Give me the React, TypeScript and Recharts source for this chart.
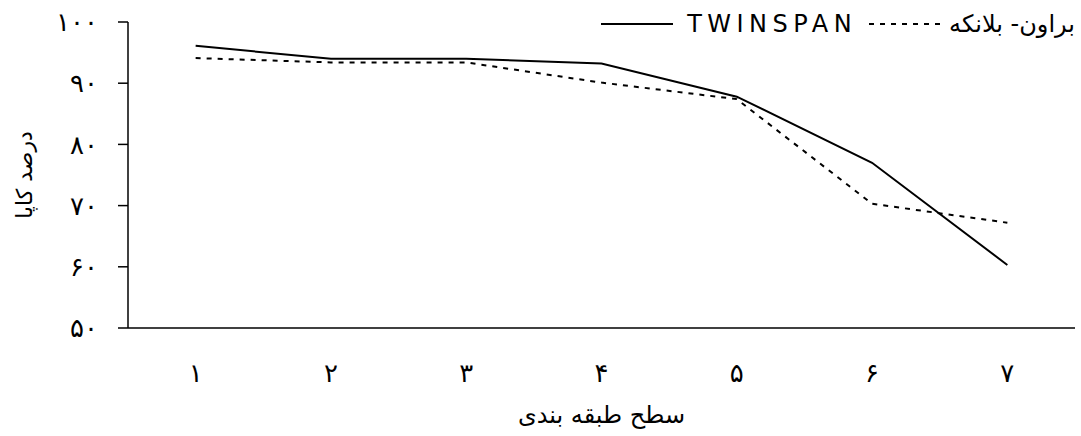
import React from 'react';
import { LineChart, Line, XAxis, YAxis, Legend } from 'recharts';

// classification levels and kappa percentages
const levels = [1, 2, 3, 4, 5, 6, 7];
const twinspan = [96.1, 94.0, 94.0, 93.2, 87.8, 77.0, 60.3];
const braunBlanquet = [94.1, 93.4, 93.4, 90.1, 87.4, 70.3, 67.2];
const yTicks = [50, 60, 70, 80, 90, 100];
const xBounds = [0.5, 1.5, 2.5, 3.5, 4.5, 5.5, 6.5, 7.5];

const faDigits = '۰۱۲۳۴۵۶۷۸۹';
const toFa = (n: number) => String(n).replace(/\d/g, (d) => faDigits[Number(d)]);

const renderLegend = () => (
  <div style={{ height: 22, position: 'relative' }}>
    <div
      style={{
        position: 'absolute',
        right: 0,
        top: 10,
        display: 'flex',
        alignItems: 'center',
        whiteSpace: 'nowrap',
        fontSize: 24,
        color: '#000',
        lineHeight: '28px',
      }}
    >
      <svg width={72} height={6} style={{ marginRight: 14 }}>
        <line x1={0} y1={3} x2={72} y2={3} stroke="#000" strokeWidth={2} />
      </svg>
      <span style={{ letterSpacing: 5.5 }}>TWINSPAN</span>
      <svg width={74} height={6} style={{ marginLeft: 12, marginRight: 6 }}>
        <line x1={0} y1={3} x2={74} y2={3} stroke="#000" strokeWidth={2} strokeDasharray="5 6" />
      </svg>
      <span dir="rtl">براون- بلانکه</span>
    </div>
  </div>
);

const data = levels.map((level, i) => ({
  level,
  twinspan: twinspan[i],
  braun: braunBlanquet[i],
}));

const App: React.FC = () => {
  return (
    <div style={{ width: 1081, height: 436, fontFamily: '"DejaVu Sans", sans-serif', background: '#fff' }}>
      <style>{'body{margin:0}'}</style>
      <LineChart width={1081} height={436} data={data} margin={{ top: 0, right: 6, bottom: 0, left: 0 }}>
        <Legend verticalAlign="top" align="right" content={renderLegend} />
        <YAxis
          type="number"
          domain={[50, 100]}
          ticks={yTicks}
          interval={0}
          width={128}
          tickFormatter={toFa}
          tickSize={10}
          tickMargin={20}
          stroke="#000"
          strokeWidth={1.5}
          tick={{ fill: '#000', fontSize: 26 }}
          label={{
            value: 'درصد کاپا',
            angle: -90,
            position: 'insideLeft',
            offset: 24,
            fill: '#000',
            fontSize: 22,
            style: { textAnchor: 'middle' },
          }}
        />
        <XAxis
          xAxisId="bounds"
          type="number"
          dataKey="level"
          domain={[0.5, 7.5]}
          ticks={xBounds}
          interval={0}
          tick={false}
          tickSize={10}
          height={10}
          stroke="#000"
          strokeWidth={1.5}
        />
        <XAxis
          xAxisId="labels"
          type="number"
          dataKey="level"
          domain={[0.5, 7.5]}
          ticks={levels}
          interval={0}
          tickFormatter={toFa}
          axisLine={false}
          tickLine={false}
          tickSize={0}
          tickMargin={26}
          height={98}
          tick={{ fill: '#000', fontSize: 26 }}
          label={{ value: 'سطح طبقه بندی', position: 'insideBottom', offset: 13, fill: '#000', fontSize: 24 }}
        />
        <Line
          xAxisId="labels"
          type="linear"
          dataKey="twinspan"
          stroke="#000"
          strokeWidth={2}
          dot={false}
          isAnimationActive={false}
        />
        <Line
          xAxisId="labels"
          type="linear"
          dataKey="braun"
          stroke="#000"
          strokeWidth={2}
          strokeDasharray="5 6"
          dot={false}
          isAnimationActive={false}
        />
      </LineChart>
    </div>
  );
};

export default App;
